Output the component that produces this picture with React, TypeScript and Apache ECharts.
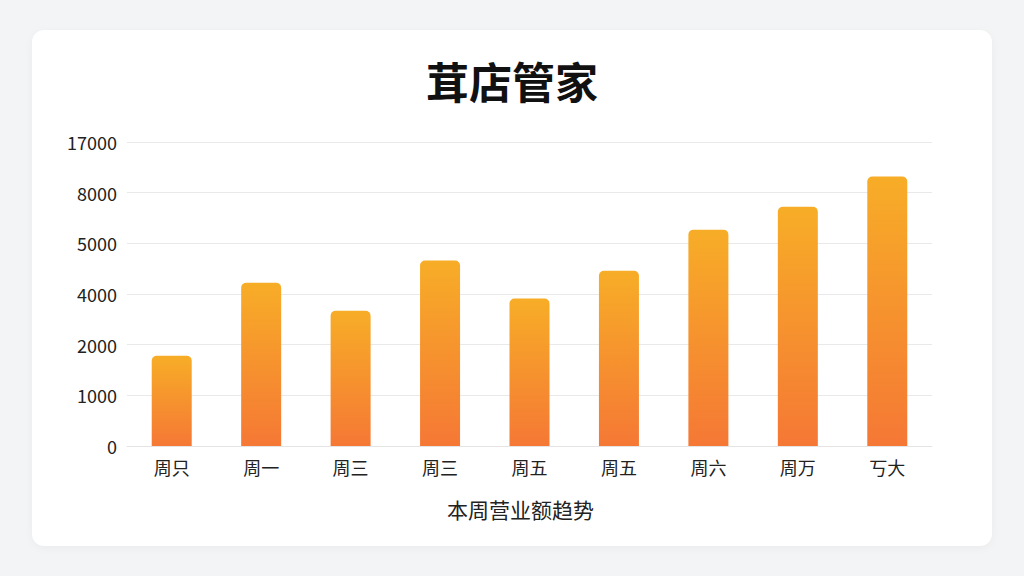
import React, { useEffect, useRef } from "react";
import * as echarts from "echarts";

const titleText = "茸店管家";
const axisName = "本周营业额趋势";
const categories = ["周只", "周一", "周三", "周三", "周五", "周五", "周六", "周万", "丂大"];
// Tick labels printed on the (evenly spaced) value axis, bottom to top
const yTickLabels = ["0", "1000", "2000", "4000", "5000", "8000", "17000"];
// Bar heights in axis-step units (1 step = one gridline interval)
const barValues = [1.78, 3.22, 2.67, 3.66, 2.91, 3.46, 4.27, 4.72, 5.32];

const FONT = '"Noto Sans CJK SC", "Noto Sans", sans-serif';

export default function App() {
  const ref = useRef<HTMLDivElement>(null);

  useEffect(() => {
    if (!ref.current) return;
    const chart = echarts.init(ref.current, undefined, { renderer: "svg" });
    chart.setOption({
      animation: false,
      backgroundColor: "transparent",
      textStyle: { fontFamily: FONT },
      title: {
        text: titleText,
        left: "center",
        top: 53,
        textStyle: {
          fontFamily: FONT,
          fontSize: 43,
          fontWeight: "bold",
          color: "#111111",
        },
      },
      grid: { left: 127, right: 92, top: 142, bottom: 130, containLabel: false },
      xAxis: {
        type: "category",
        data: categories,
        axisLine: { show: true, lineStyle: { color: "#e4e4e4" } },
        axisTick: { show: false },
        axisLabel: { color: "#222222", fontSize: 18, margin: 12, fontFamily: FONT },
        name: axisName,
        nameLocation: "middle",
        nameGap: 52,
        nameTextStyle: {
          color: "#222222",
          fontSize: 21,
          fontFamily: FONT,
          padding: [0, 18, 0, 0],
        },
      },
      yAxis: {
        type: "value",
        min: 0,
        max: yTickLabels.length - 1,
        interval: 1,
        axisLine: { show: false },
        axisTick: { show: false },
        splitLine: { lineStyle: { color: "#e9e9e9" } },
        axisLabel: {
          color: "#222222",
          fontSize: 18,
          margin: 10,
          fontFamily: FONT,
          formatter: (v: number) => yTickLabels[Math.round(v)] ?? "",
        },
      },
      series: [
        {
          type: "bar",
          data: barValues,
          barWidth: 40,
          itemStyle: {
            borderRadius: [5, 5, 0, 0],
            color: new echarts.graphic.LinearGradient(0, 0, 0, 1, [
              { offset: 0, color: "#F7AD27" },
              { offset: 1, color: "#F57835" },
            ]),
          },
        },
      ],
    });
    return () => chart.dispose();
  }, []);

  return (
    <div
      style={{
        position: "fixed",
        left: 0,
        top: 0,
        width: 1024,
        height: 576,
        background: "#f3f4f6",
        overflow: "hidden",
      }}
    >
      <div
        style={{
          position: "absolute",
          left: 32,
          top: 30,
          width: 960,
          height: 516,
          background: "#ffffff",
          borderRadius: 12,
          boxShadow: "0 2px 10px rgba(0,0,0,0.04)",
        }}
      />
      <div
        ref={ref}
        style={{ position: "absolute", left: 0, top: 0, width: 1024, height: 576 }}
      />
    </div>
  );
}
